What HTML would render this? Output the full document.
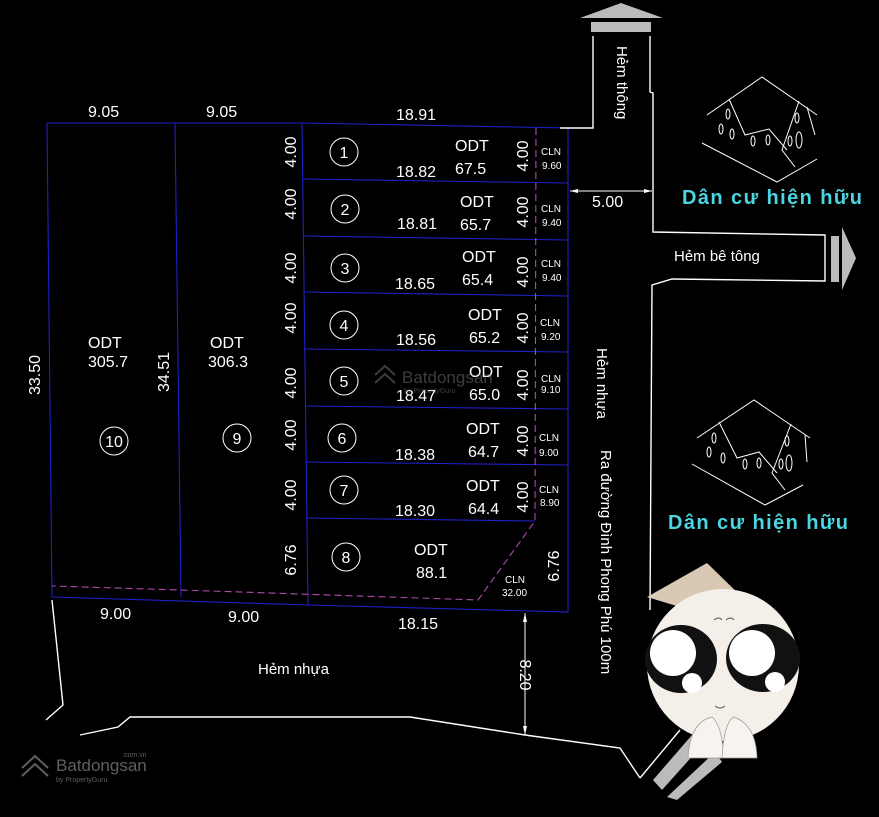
<!DOCTYPE html>
<html><head><meta charset="utf-8"><style>
html,body{margin:0;padding:0;background:#000;}
svg{display:block;}
text{font-family:"Liberation Sans",sans-serif;}
</style></head><body>
<svg width="879" height="817" viewBox="0 0 879 817" xmlns="http://www.w3.org/2000/svg">
<rect width="879" height="817" fill="#000"/>
<g stroke="#2020c8" stroke-width="1.1" fill="none">
<polyline points="47,123 302,123 568,128 568,612 308,605 52,597 47,123"/>
<line x1="175" y1="123" x2="181" y2="597"/>
<line x1="302" y1="123" x2="308" y2="605"/>
<line x1="302" y1="179" x2="568" y2="183"/>
<line x1="303" y1="236" x2="568" y2="240"/>
<line x1="303" y1="292" x2="568" y2="296"/>
<line x1="304" y1="349" x2="568" y2="352"/>
<line x1="305" y1="406" x2="568" y2="409"/>
<line x1="305" y1="462" x2="568" y2="465"/>
<line x1="306" y1="518" x2="535" y2="521"/>
</g>
<polyline points="536,128 535,521 478,600 300,594 180,590 52,586" fill="none" stroke="#b04ab0" stroke-width="1.1" stroke-dasharray="7,4"/>
<g stroke="#fff" stroke-width="1.4" fill="none">
<polyline points="560,128 593,128 593,36"/>
<polyline points="650,36 650,92 653,93 653,232 825,235 825,281 672,279 652,285 650,610"/>
<polyline points="52,600 63,705 46,720"/>
<polyline points="80,735 118,727 130,717 410,717 525,735 620,748 640,778"/>
<polyline points="640,778 680,730"/>
</g>
<polygon points="580,18 663,18 621,3" fill="#bbb"/>
<rect x="591" y="22" width="60" height="10" fill="#bbb"/>
<rect x="831" y="236" width="8" height="46" fill="#bbb"/>
<polygon points="842,227 842,290 856,258" fill="#bbb"/>
<g fill="#fff">
<line x1="570" y1="191" x2="652" y2="191" stroke="#fff" stroke-width="1"/>
<polygon points="570,191 578,189 578,193"/>
<polygon points="652,191 644,189 644,193"/>
<text x="592" y="207" font-size="16">5.00</text>
<line x1="525" y1="613" x2="525" y2="735" stroke="#fff" stroke-width="1"/>
<polygon points="525,613 523,622 527,622"/>
<polygon points="525,735 523,726 527,726"/>
<text transform="translate(520,675) rotate(90)" font-size="16" text-anchor="middle">8.20</text>
</g>
<g font-size="16" fill="#fff">
<text x="88" y="117">9.05</text>
<text x="206" y="117">9.05</text>
<text x="396" y="120">18.91</text>
<text x="100" y="619">9.00</text>
<text x="228" y="622">9.00</text>
<text x="398" y="629">18.15</text>
<text transform="translate(40,375) rotate(-90)" text-anchor="middle">33.50</text>
<text transform="translate(169,372) rotate(-90)" text-anchor="middle">34.51</text>
<text x="88" y="348">ODT</text><text x="88" y="367">305.7</text>
<text x="210" y="348">ODT</text><text x="208" y="367">306.3</text>
</g>
<g fill="none" stroke="#fff" stroke-width="1">
<circle cx="114" cy="441" r="14"/><circle cx="237" cy="438" r="14"/>
<circle cx="344" cy="152" r="14"/><circle cx="345" cy="209" r="14"/>
<circle cx="345" cy="268" r="14"/><circle cx="344" cy="325" r="14"/>
<circle cx="344" cy="381" r="14"/><circle cx="342" cy="438" r="14"/>
<circle cx="344" cy="490" r="14"/><circle cx="346" cy="557" r="14"/>
</g>
<g font-size="16" text-anchor="middle" fill="#fff">
<text x="114" y="447">10</text><text x="237" y="444">9</text>
<text x="344" y="158">1</text><text x="345" y="215">2</text><text x="345" y="274">3</text>
<text x="344" y="331">4</text><text x="344" y="387">5</text><text x="342" y="444">6</text>
<text x="344" y="496">7</text><text x="346" y="563">8</text>
</g>
<g font-size="16" fill="#fff">
<text x="396" y="177">18.82</text><text x="455" y="151">ODT</text><text x="455" y="174">67.5</text>
<text x="397" y="229">18.81</text><text x="460" y="207">ODT</text><text x="460" y="230">65.7</text>
<text x="395" y="289">18.65</text><text x="462" y="262">ODT</text><text x="462" y="285">65.4</text>
<text x="396" y="345">18.56</text><text x="468" y="320">ODT</text><text x="469" y="343">65.2</text>
<text x="396" y="401">18.47</text><text x="469" y="377">ODT</text><text x="469" y="400">65.0</text>
<text x="395" y="460">18.38</text><text x="466" y="434">ODT</text><text x="468" y="457">64.7</text>
<text x="395" y="516">18.30</text><text x="466" y="491">ODT</text><text x="468" y="514">64.4</text>
<text x="414" y="555">ODT</text><text x="416" y="578">88.1</text>
</g>
<g font-size="16" text-anchor="middle" fill="#fff">
<text transform="translate(296,152) rotate(-90)">4.00</text>
<text transform="translate(296,204) rotate(-90)">4.00</text>
<text transform="translate(296,268) rotate(-90)">4.00</text>
<text transform="translate(296,318) rotate(-90)">4.00</text>
<text transform="translate(296,383) rotate(-90)">4.00</text>
<text transform="translate(296,435) rotate(-90)">4.00</text>
<text transform="translate(296,495) rotate(-90)">4.00</text>
<text transform="translate(296,560) rotate(-90)">6.76</text>
<text transform="translate(528,156) rotate(-90)">4.00</text>
<text transform="translate(528,212) rotate(-90)">4.00</text>
<text transform="translate(528,272) rotate(-90)">4.00</text>
<text transform="translate(528,328) rotate(-90)">4.00</text>
<text transform="translate(528,385) rotate(-90)">4.00</text>
<text transform="translate(528,441) rotate(-90)">4.00</text>
<text transform="translate(528,497) rotate(-90)">4.00</text>
<text transform="translate(559,566) rotate(-90)">6.76</text>
</g>
<g font-size="10" fill="#fff">
<text x="541" y="155">CLN</text><text x="542" y="169">9.60</text>
<text x="541" y="212">CLN</text><text x="542" y="226">9.40</text>
<text x="541" y="267">CLN</text><text x="542" y="281">9.40</text>
<text x="540" y="326">CLN</text><text x="541" y="340">9.20</text>
<text x="541" y="382">CLN</text><text x="541" y="393">9.10</text>
<text x="539" y="441">CLN</text><text x="539" y="456">9.00</text>
<text x="539" y="493">CLN</text><text x="540" y="506">8.90</text>
<text x="505" y="583">CLN</text><text x="502" y="596">32.00</text>
</g>
<g font-size="15" fill="#fff">
<text transform="translate(617,46) rotate(90)">Hẻm thông</text>
<text x="674" y="261">Hẻm bê tông</text>
<text transform="translate(597,348) rotate(90)">Hẻm nhựa</text>
<text transform="translate(601,450) rotate(90)">Ra đường Đình Phong Phú 100m</text>
<text x="258" y="674">Hẻm nhựa</text>
</g>
<g fill="none" stroke="#fff" stroke-width="1">
<g transform="translate(707,77)">
<polyline points="0,38 55,0 110,38"/><polyline points="-5,66 70,105 110,82"/>
<polyline points="22,22 38,58 62,52 80,73"/><polyline points="92,24 75,73 88,90"/>
<line x1="100" y1="30" x2="108" y2="58"/>
<ellipse cx="21" cy="37" rx="2" ry="5"/><ellipse cx="14" cy="52" rx="2" ry="5"/><ellipse cx="25" cy="57" rx="2" ry="5"/><ellipse cx="46" cy="64" rx="2" ry="5"/><ellipse cx="61" cy="63" rx="2" ry="5"/><ellipse cx="83" cy="64" rx="2" ry="5"/><ellipse cx="92" cy="63" rx="3" ry="8"/><ellipse cx="90" cy="41" rx="2" ry="5"/>
</g>
<g transform="translate(697,400)">
<polyline points="0,38 57,0 113,38"/><polyline points="-5,64 68,105 106,85"/>
<polyline points="22,22 40,58 62,52 80,73"/><polyline points="94,24 75,73 88,90"/>
<line x1="108" y1="35" x2="110" y2="62"/>
<ellipse cx="17" cy="38" rx="2" ry="5"/><ellipse cx="12" cy="52" rx="2" ry="5"/><ellipse cx="26" cy="58" rx="2" ry="5"/><ellipse cx="48" cy="64" rx="2" ry="5"/><ellipse cx="62" cy="63" rx="2" ry="5"/><ellipse cx="84" cy="64" rx="2" ry="5"/><ellipse cx="92" cy="63" rx="3" ry="8"/><ellipse cx="90" cy="41" rx="2" ry="5"/>
</g>
</g>
<g font-size="20" font-weight="bold" fill="#4cd4e0">
<text x="682" y="204" textLength="180">Dân cư hiện hữu</text>
<text x="668" y="529" textLength="180">Dân cư hiện hữu</text>
</g>
<!-- chibi -->
<polygon points="653,780 692,735 705,742 662,790" fill="#bbb"/>
<polygon points="667,797 715,752 722,762 677,800" fill="#bbb"/>
<polygon points="647,597 707,563 745,600 690,610" fill="#d9c8b4"/>
<circle cx="723" cy="665" r="76" fill="#f4efe8"/>
<ellipse cx="681" cy="659" rx="36" ry="34" fill="#111"/>
<ellipse cx="763" cy="658" rx="37" ry="34" fill="#111"/>
<circle cx="673" cy="653" r="23" fill="#fff"/><circle cx="752" cy="653" r="23" fill="#fff"/>
<circle cx="692" cy="683" r="10" fill="#fff"/><circle cx="775" cy="682" r="10" fill="#fff"/>
<path d="M714,620 q5,-4 8,0 M726,620 q5,-4 8,0" stroke="#555" fill="none" stroke-width="1"/>
<path d="M715,706 q5,4 10,0" stroke="#555" fill="none" stroke-width="1"/>
<path d="M688,758 Q690,722 712,717 Q722,725 724,758 Z" fill="#f7f3ee" stroke="#999" stroke-width="0.7"/>
<path d="M722,758 Q724,722 734,717 Q756,725 757,758 Z" fill="#f7f3ee" stroke="#999" stroke-width="0.7"/>
<g opacity="0.45" fill="#888">
<text x="402" y="383" font-size="17">Batdongsan</text>
<text x="404" y="393" font-size="7">by PropertyGuru</text>
<path d="M375,375 l10,-9 l10,9 M375,383 l10,-9 l10,9" stroke="#888" fill="none" stroke-width="2"/>
</g>
<g opacity="0.7" fill="#888">
<text x="56" y="771" font-size="17">Batdongsan</text>
<text x="56" y="782" font-size="7">by PropertyGuru</text>
<text x="122" y="757" font-size="7">.com.vn</text>
<path d="M22,768 l13,-12 l13,12 M22,776 l13,-12 l13,12" stroke="#888" fill="none" stroke-width="2"/>
</g>
</svg>
</body></html>
